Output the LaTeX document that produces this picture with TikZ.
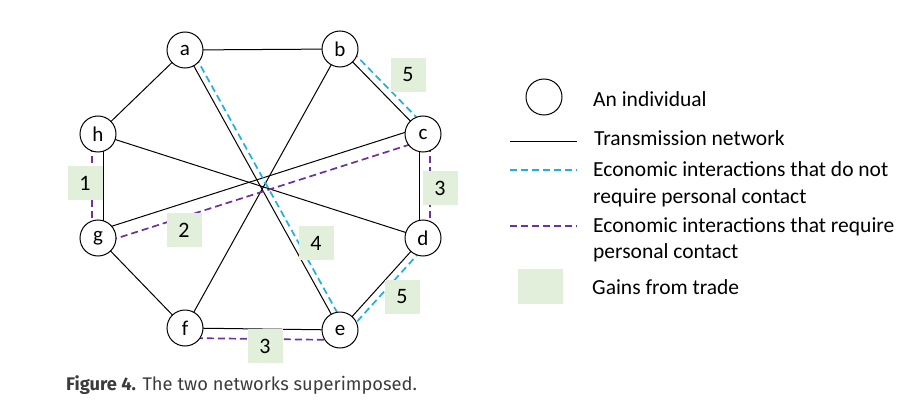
\documentclass[tikz,border=0pt]{standalone}
\usepackage{fontspec}
\setmainfont{Carlito}
\newfontfamily\capfont{Fira Sans}
\usetikzlibrary{calc,backgrounds}
\definecolor{cyanline}{RGB}{30,176,224}
\definecolor{purpline}{RGB}{112,48,160}
\definecolor{gainsgreen}{RGB}{226,239,218}
\definecolor{captext}{RGB}{60,60,60}
\tikzset{
  person/.style={circle,draw,fill=white,minimum size=36pt,inner sep=0pt,line width=1pt,font=\fontsize{21}{24}\selectfont},
  tnet/.style={line width=1pt,black},
  cyandash/.style={cyanline,line width=1.7pt,dash pattern=on 7pt off 4pt},
  purpdash/.style={purpline,line width=1.7pt,dash pattern=on 7pt off 4pt},
  gain/.style={fill=gainsgreen,minimum width=35pt,minimum height=34pt,inner sep=0pt,font=\fontsize{22}{26}\selectfont},
  legtext/.style={anchor=west,align=left,inner sep=0pt,font=\fontsize{21.5}{26.5}\selectfont}
}
\newcommand{\offedge}[4]{\draw[#1] ($(#2)!#4!90:(#3)$) -- ($(#3)!#4!-90:(#2)$);}
\begin{document}
\begin{tikzpicture}[x=1pt,y=-1pt]
\useasboundingbox (0,0) rectangle (923,409);
% individuals
\node[person] (a) at (185,50) {a};
\node[person] (b) at (340,49) {b};
\node[person] (c) at (423,134) {c};
\node[person] (d) at (423,238) {d};
\node[person] (e) at (340,330) {e};
\node[person] (f) at (185,328) {f};
\node[person] (g) at (98,238) {g};
\node[person] (h) at (98,134) {h};
\begin{pgfonlayer}{background}
% transmission network
\offedge{tnet}{a}{b}{0pt}
\offedge{tnet}{a}{h}{0pt}
\offedge{tnet}{a}{e}{0pt}
\offedge{tnet}{b}{c}{0pt}
\offedge{tnet}{b}{f}{0pt}
\offedge{tnet}{c}{d}{-4pt}
\offedge{tnet}{g}{c}{7pt}
\offedge{tnet}{d}{e}{0pt}
\offedge{tnet}{h}{d}{0pt}
\offedge{tnet}{f}{e}{0pt}
\offedge{tnet}{f}{g}{0pt}
\offedge{tnet}{h}{g}{5pt}
% economic interactions
\offedge{cyandash}{b}{c}{7pt}
\offedge{cyandash}{a}{e}{6pt}
\offedge{cyandash}{d}{e}{7pt}
\offedge{purpdash}{h}{g}{-6pt}
\offedge{purpdash}{c}{d}{7pt}
\offedge{purpdash}{g}{c}{-6pt}
\offedge{purpdash}{f}{e}{-10pt}
\end{pgfonlayer}
% gains from trade
\node[gain] (gbc) at (408,75) {5};
\node[gain] (gcd) at (440,188) {3};
\node[gain] (ghg) at (85,183) {1};
\node[gain] (ggc) at (184,230) {2};
\node[gain] (gae) at (316,243) {4};
\node[gain] (gde) at (402,297) {5};
\node[gain] (gfe) at (265,346) {3};
% legend
\node[person] (legcircle) at (544,97) {};
\coordinate (lt1) at (510,141);
\coordinate (lt2) at (577,141);
\coordinate (lc1) at (510,170);
\coordinate (lc2) at (577,170);
\coordinate (lp1) at (510,226);
\coordinate (lp2) at (577,226);
\draw[tnet] (lt1) -- (lt2);
\draw[cyandash] (lc1) -- (lc2);
\draw[purpdash] (lp1) -- (lp2);
\node[fill=gainsgreen,minimum width=45pt,minimum height=35pt,inner sep=0pt] (leggain) at (540.5,286.5) {};
\node[legtext] (t1) at (593,99) {An individual};
\node[legtext] (t2) at (594,138) {Transmission network};
\node[legtext] (t3) at (593,184.5) {Economic interactions that do not\\require personal contact};
\node[legtext] (t4) at (593,240) {Economic interactions that require\\personal contact};
\node[legtext] (t5) at (592,287) {Gains from trade};
% caption
\node[anchor=west,inner sep=0pt,text=captext,font=\capfont\fontsize{18.3}{21}\selectfont] (cap) at (66,385) {\textbf{Figure 4.} The two networks superimposed.};
\end{tikzpicture}
\end{document}
